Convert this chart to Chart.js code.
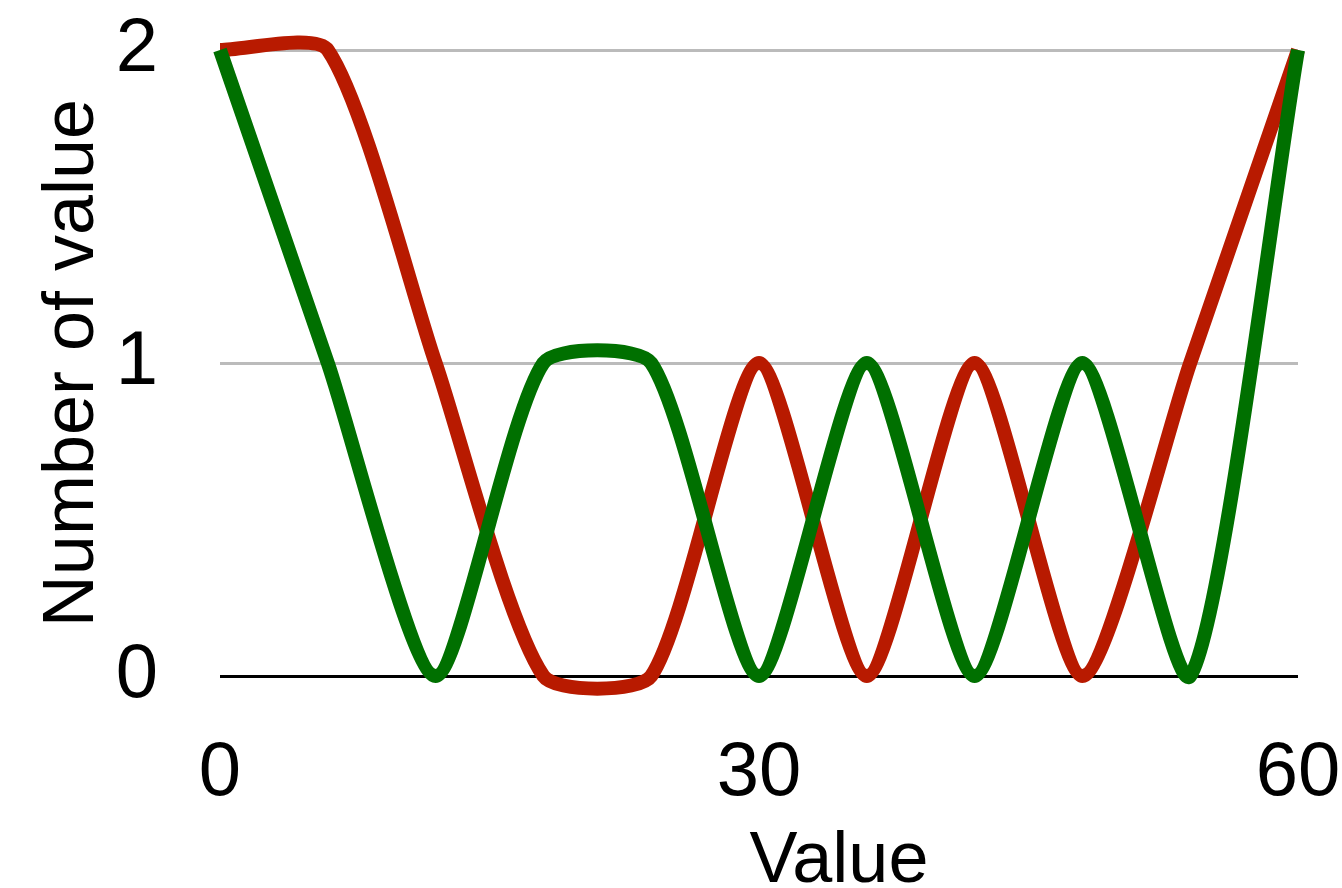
<!DOCTYPE html>
<html>
<head>
<meta charset="utf-8">
<script src="https://cdn.jsdelivr.net/npm/chart.js@4/dist/chart.umd.min.js"></script>
<style>
  html, body { margin: 0; padding: 0; background: #fff; }
  #wrap { width: 1342px; height: 888px; }
</style>
</head>
<body>
<div id="wrap"><canvas id="chart" width="1342" height="888"></canvas></div>
<script>
 // Chart data
 const xValues = [0, 6, 12, 18, 24, 30, 36, 42, 48, 54, 60];
 const redValues = [2, 2, 1, 0, 0, 1, 0, 1, 0, 1, 2];
 const greenValues = [2, 1, 0, 1, 1, 0, 1, 0, 1, 0, 2];
 const xTicks = [0, 30, 60];
 const yTicks = [0, 1, 2];

 const toPoints = (ys) => xValues.map((x, i) => ({ x: x, y: ys[i] }));

 const font = 'Liberation Sans, Arial, Helvetica, sans-serif';
 const ctx = document.getElementById('chart').getContext('2d');

 const chart = new Chart(ctx, {
     type: 'line',
     data: {
         datasets: [{
             label: 'green',
             data: toPoints(greenValues),
             borderColor: '#007000',
             borderWidth: 14,
             tension: 0.22,
             capBezierPoints: false,
             clip: false,
             pointRadius: 0,
             fill: false
         }, {
             label: 'red',
             data: toPoints(redValues),
             borderColor: '#b81a00',
             borderWidth: 14,
             tension: 0.22,
             capBezierPoints: false,
             clip: false,
             pointRadius: 0,
             fill: false
         }]
     },
     options: {
         responsive: false,
         animation: false,
         layout: { padding: { left: 30, right: 0, top: 0, bottom: 0 } },
         plugins: {
             legend: { display: false },
             tooltip: { enabled: false }
         },
         scales: {
             x: {
                 type: 'linear',
                 min: 0,
                 max: 60,
                 afterBuildTicks: (axis) => { axis.ticks = xTicks.map(v => ({ value: v })); },
                 // fixed box size, and keep the tick padding out of the side margins
                 afterFit: (axis) => { axis.height = 212; axis.paddingRight = 44; axis.paddingLeft = 44; },
                 grid: { display: false, drawTicks: false },
                 border: { display: false },
                 ticks: { color: '#000', font: { family: font, size: 76 }, padding: 52, maxRotation: 0 },
                 // leading spaces push the title a bit right of centre, like the original
                 title: { display: true, text: '        Value', color: '#000', font: { family: font, size: 72 }, padding: { top: 0, bottom: -17 } }
             },
             y: {
                 min: 0,
                 max: 2,
                 afterBuildTicks: (axis) => { axis.ticks = yTicks.map(v => ({ value: v })); },
                 afterFit: (axis) => { axis.width = 190; axis.paddingTop = 50; axis.paddingBottom = 46; },
                 grid: {
                     drawTicks: false,
                     lineWidth: 3,
                     color: (c) => c.tick && c.tick.value === 0 ? '#000' : '#bbbbbb'
                 },
                 border: { display: false },
                 ticks: { color: '#000', font: { family: font, size: 76 }, padding: 62 },
                 title: { display: true, text: 'Number of value', color: '#000', font: { family: font, size: 72 }, padding: { top: 0, bottom: 0 } }
             }
         }
     }
 });
</script>
</body>
</html>
